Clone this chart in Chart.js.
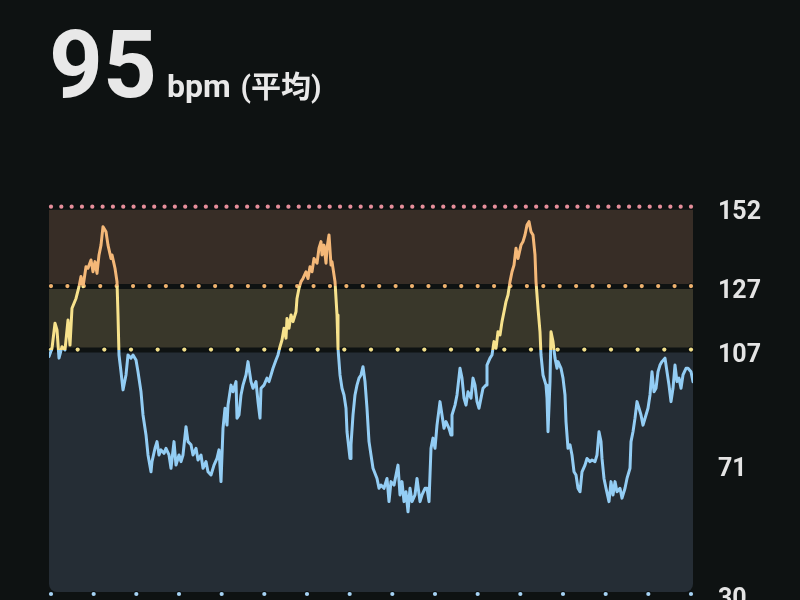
<!DOCTYPE html>
<html>
<head>
<meta charset="utf-8">
<script src="https://cdn.jsdelivr.net/npm/chart.js@4.4.1/dist/chart.umd.min.js"></script>
<style>
  html, body { margin:0; padding:0; background:#0e1212; width:800px; height:600px; overflow:hidden; }
  #wrap { position:absolute; left:0; top:0; width:800px; height:600px; }
  #hdr { position:absolute; left:49px; top:18px; display:flex; align-items:baseline; color:#e8e8e8;
         font-family: Roboto, "Noto Sans CJK JP", sans-serif; white-space:nowrap; }
  #avg { font-size:94px; font-weight:700; line-height:94px; }
  #unit { font-size:32px; font-weight:700; margin-left:10px; }
  #lbl { font-size:30px; font-weight:700; margin-left:10px; }
</style>
</head>
<body>
<div id="wrap"><canvas id="c" width="800" height="600"></canvas></div>
<div id="hdr"><span id="avg">95</span><span id="unit">bpm</span><span id="lbl">(平均)</span></div>
<script>
// ---- data ----
const minutes = [
  0.0,0.3,0.6,0.8,1.0,1.3,1.6,1.9,2.1,2.3,
  2.7,3.0,3.2,3.4,3.7,3.9,4.2,4.4,4.6,4.8,
  5.0,5.2,5.4,5.7,5.9,6.2,6.3,6.6,6.8,6.9,
  7.0,7.2,7.4,7.7,7.9,8.2,8.4,8.7,8.9,9.2,
  9.4,9.7,9.9,10.2,10.3,10.6,10.8,11.0,11.2,11.5,
  11.7,12.0,12.2,12.5,12.7,13.0,13.2,13.4,13.7,13.9,
  14.2,14.4,14.7,14.9,15.2,15.4,15.7,15.9,16.2,16.5,
  16.8,17.0,17.2,17.4,17.6,17.8,17.9,18.2,18.4,18.7,
  18.8,19.0,19.2,19.4,19.7,19.9,20.2,20.4,20.7,20.9,
  21.1,21.2,21.5,21.8,22.0,22.2,22.4,22.7,22.9,23.1,
  23.3,23.5,23.7,23.8,24.0,24.2,24.4,24.7,24.8,25.0,
  25.2,25.4,25.7,25.9,26.1,26.3,26.5,26.8,27.0,27.2,
  27.3,27.5,27.7,27.8,28.0,28.2,28.3,28.6,28.8,28.9,
  29.1,29.3,29.5,29.7,29.8,30.1,30.2,30.4,30.6,30.8,
  31.0,31.2,31.4,31.6,31.8,32.0,32.2,32.4,32.8,33.0,
  33.2,33.5,33.8,34.0,34.2,34.5,34.7,34.9,35.1,35.3,
  35.5,35.7,35.9,36.1,36.3,36.6,36.8,37.1,37.3,37.6,
  37.8,38.0,38.2,38.4,38.6,38.8,39.1,39.3,39.5,39.7,
  40.0,40.2,40.3,40.6,40.8,41.1,41.3,41.5,41.7,41.9,
  42.2,42.4,42.6,42.8,43.0,43.2,43.4,43.7,43.8,44.1,
  44.3,44.5,44.7,44.9,45.1,45.3,45.5,45.7,45.9,46.1,
  46.3,46.5,46.7,46.9,47.2,47.4,47.6,47.8,48.0,48.2,
  48.4,48.6,48.7,48.9,49.1,49.2,49.4,49.7,49.8,49.9,
  50.1,50.2,50.4,50.6,50.8,50.9,51.2,51.4,51.6,51.7,
  51.9,52.1,52.3,52.5,52.7,52.9,53.1,53.3,53.6,53.8,
  54.1,54.3,54.6,54.8,55.0,55.2,55.3,55.5,55.7,56.0,
  56.2,56.4,56.6,56.8,57.1,57.3,57.6,57.8,58.1,58.2,
  58.4,58.6,58.8,59.0,59.2,59.4,59.7,59.9,60.1,60.3,
  60.5,60.7,60.9,61.1,61.3,61.6,61.8,62.0,62.2,62.4,
  62.6,62.8,63.0,63.2,63.4,63.7,63.9,64.2,64.4
];
const bpm = [
  104.8,107.4,115.3,113.2,104.3,107.9,106.9,116.3,108.4,120,
  123.1,126.8,130,126.8,133.1,132.6,135.2,131.5,134.7,131,
  136.8,139.9,145.7,144.1,139.9,135.7,136.8,132.6,128.4,117.9,
  105.3,100,94.3,99,105.3,104.3,105.3,103.7,100,93.7,
  86.4,80.1,73.8,68.5,71.7,75.9,78,73.8,75.4,74.3,
  75.9,73.8,69.6,78,70.6,73.8,71.7,73.8,82.7,78,
  77,73.8,75.9,72.2,73.8,69.6,71.7,68.5,67.5,70.6,
  72.7,75.4,65.4,82.2,88.5,83.2,89.5,95.8,93.7,96.9,
  85.4,86.4,92.7,95.8,99,103.2,96.9,94.8,96.9,90.6,
  85.4,94.8,95.8,98,96.9,99,101.1,103.7,105.3,107.9,
  110,113.7,110.6,116.8,113.7,117.9,115.8,118.9,123.1,126.3,
  128.4,129.4,131.5,129.4,133.1,131.5,135.7,134.2,138.9,141,
  136.8,139.9,134.2,138.9,143.1,133.6,134.7,128.4,117.9,107.4,
  99,94.8,92.7,88.5,81.1,72.7,77,86.4,92.7,95.8,
  98,99,101.6,96.9,88.5,78,73.8,69.6,66.4,63.3,
  64.3,63.3,66.4,59.1,65.4,64.3,67.5,70.6,61.2,65.4,
  59.1,62.2,55.9,63.3,59.1,61.2,66.4,59.1,61.2,63.3,
  63.3,59.1,75.9,79.1,75.9,83.2,90.6,86.4,82.2,84.3,
  82.2,80.1,86.4,89.5,92.7,101.1,98,91.7,89.5,93.7,
  91.7,98,95.8,90.6,88.5,91.7,94.8,95.8,102.1,104.3,
  105.3,109.5,107.4,112.6,111.6,115.8,118.9,122.1,124.2,128.4,
  131.5,133.6,138.9,135.7,139.9,141,143.1,146.2,147.3,144.1,
  143.1,136.8,128.4,120,112.6,105.3,99,95.8,91.7,81.1,
  96.9,112.6,109.5,104.3,101.1,103.2,101.1,98,92.7,84.3,
  75.9,77,73.8,68.5,67.5,63.3,62.2,68.5,70.6,72.7,
  71.7,72.2,71.7,73.8,81.1,78,72.7,66.4,63.3,59.1,
  65.4,61.2,65.4,62.2,63.3,60.2,63.3,66.4,69.6,78,
  81.1,85.4,90.6,88.5,86.4,83.2,86.4,88.5,92.7,100,
  93.7,94.8,100,102.1,103.2,104.3,100,95.8,90.6,94.8,
  102.1,96.9,98,94.8,99,101.1,101.1,100,96.9
];
const yTicks = [152, 127, 107, 71, 30];
const zoneBounds = [152, 127, 107, 30];   // zone limits (bpm)

// ---- styling ----
const BG = '#0e1212';
const LINE_HIGH = '#f4b878';
const LINE_MID  = '#f7e28c';
const LINE_LOW  = '#93cdf4';
const BAND_FILLS = ['#372d26', '#39372a', '#252d35'];
const DOT_COLORS = ['#e58e9a', '#efb26f', '#f2df8a', '#a6d3f5'];
const DOT_INTERVALS = [62, 39, 24, 15];

const zonesPlugin = {
  id: 'zones',
  beforeDatasetsDraw(chart) {
    const {ctx, chartArea: a, scales: {y}} = chart;
    ctx.save();
    for (let i = 0; i < zoneBounds.length - 1; i++) {
      const top = y.getPixelForValue(zoneBounds[i]) + 3;
      const bot = y.getPixelForValue(zoneBounds[i + 1]) - 2;
      ctx.fillStyle = BAND_FILLS[i];
      ctx.beginPath();
      if (i === zoneBounds.length - 2) {
        ctx.roundRect(a.left, top, a.right - a.left, bot - top, [0, 0, 8, 8]);
      } else {
        ctx.rect(a.left, top, a.right - a.left, bot - top);
      }
      ctx.fill();
    }
    const x0 = a.left + 2, x1 = a.right - 2;
    zoneBounds.forEach((v, i) => {
      const py = y.getPixelForValue(v);
      const n = DOT_INTERVALS[i];
      for (let k = 0; k <= n; k++) {
        const px = x0 + (x1 - x0) * k / n;
        ctx.fillStyle = BG;
        ctx.beginPath(); ctx.arc(px, py, 3, 0, Math.PI * 2); ctx.fill();
        ctx.fillStyle = DOT_COLORS[i];
        ctx.beginPath(); ctx.arc(px, py, 2.1, 0, Math.PI * 2); ctx.fill();
      }
    });
    ctx.restore();
  }
};

function zoneGradient(c) {
  const chart = c.chart;
  const {chartArea, scales} = chart;
  if (!chartArea) return LINE_LOW;
  const top = chartArea.top, bot = chartArea.bottom;
  const f = v => Math.min(1, Math.max(0, (scales.y.getPixelForValue(v) - top) / (bot - top)));
  const g = chart.ctx.createLinearGradient(0, top, 0, bot);
  g.addColorStop(0, LINE_HIGH);
  g.addColorStop(f(zoneBounds[1]), LINE_HIGH);
  g.addColorStop(f(zoneBounds[1]), LINE_MID);
  g.addColorStop(f(zoneBounds[2]), LINE_MID);
  g.addColorStop(f(zoneBounds[2]), LINE_LOW);
  g.addColorStop(1, LINE_LOW);
  return g;
}

new Chart(document.getElementById('c'), {
  type: 'line',
  data: {
    datasets: [{
      data: minutes.map((t, i) => ({x: t, y: bpm[i]})),
      borderColor: zoneGradient,
      borderWidth: 3,
      borderJoinStyle: 'round',
      borderCapStyle: 'round',
      pointRadius: 0,
      tension: 0,
      fill: false
    }]
  },
  plugins: [zonesPlugin],
  options: {
    responsive: false,
    devicePixelRatio: 1,
    animation: false,
    layout: { padding: { left: 49, top: 206.7, right: 0, bottom: 6 } },
    plugins: { legend: { display: false }, tooltip: { enabled: false } },
    scales: {
      x: { type: 'linear', min: minutes[0], max: minutes[minutes.length - 1], display: false },
      y: {
        position: 'right',
        min: 30, max: 152,
        grid: { display: false, drawTicks: false },
        border: { display: false },
        afterBuildTicks(scale) { scale.ticks = yTicks.map(v => ({value: v})); },
        afterFit(scale) { scale.width = 107; scale.paddingTop = 0; scale.paddingBottom = 0; },
        ticks: {
          padding: 25,
          labelOffset: 6,
          color: '#e4e4e4',
          font: { family: 'Roboto', size: 25, weight: 'bold' },
          autoSkip: false,
          callback: v => String(v)
        }
      }
    }
  }
});
</script>
</body>
</html>
